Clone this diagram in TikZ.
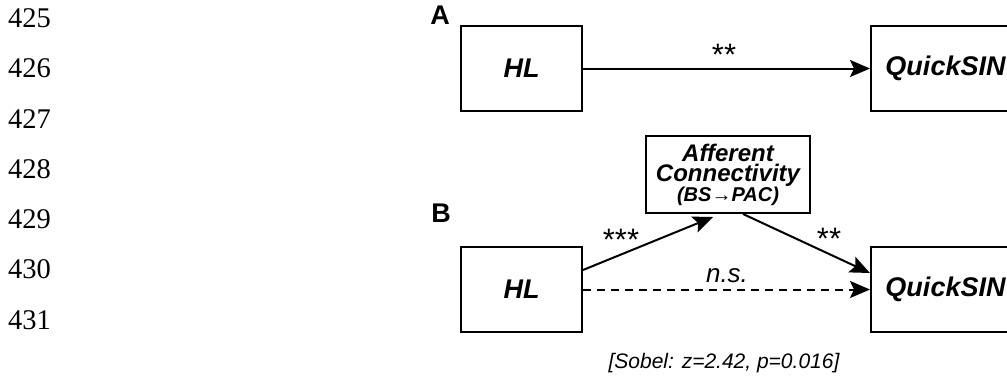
\documentclass[tikz,border=0pt]{standalone}
\usepackage{fontspec}
\setmainfont{Liberation Serif}
\newfontfamily\arial{Liberation Sans}
\usetikzlibrary{arrows.meta,calc}

\tikzset{
  varbox/.style={draw, line width=2pt, inner sep=0pt, align=center,
    font=\arial\bfseries\itshape\fontsize{27}{27}\selectfont},
  arr/.style={line width=2pt, -{Stealth[length=20pt, width=17pt, inset=4pt]}},
  sig/.style={font=\arial\fontsize{31}{31}\selectfont, inner sep=0pt},
  panel/.style={font=\arial\bfseries\fontsize{27}{27}\selectfont, inner sep=0pt},
  lineno/.style={font=\fontsize{28.5}{28.5}\selectfont, anchor=west, inner sep=0pt},
}

\begin{document}
\begin{tikzpicture}[x=1pt, y=-1pt]
\useasboundingbox (0,0) rectangle (1007,381);

% line numbers in the margin
\foreach \n [count=\i from 0] in {425,...,431}
  \node[lineno] (ln\n) at (8, 18+50.3*\i) {\n};

% panel A: direct path
\node[panel] (labA) at (440, 15.5) {A};
\node[varbox, minimum width=121pt, minimum height=85pt] (hlA) at (521.5, 68.5) {HL};
\node[varbox, minimum width=149pt, minimum height=85pt] (qsA) at (945.5, 68.5) {QuickSIN};
\draw[arr] (hlA) -- (qsA);
\node[sig] (sA) at (724, 55) {**};

% panel B: mediation through afferent connectivity
\node[panel] (labB) at (441, 213) {B};
\node[varbox, minimum width=121pt, minimum height=85pt] (hlB) at (521.5, 289.5) {HL};
\node[varbox, minimum width=149pt, minimum height=85pt] (qsB) at (945.5, 289.5) {QuickSIN};
\node[varbox, minimum width=164pt, minimum height=77pt,
      font=\arial\bfseries\itshape\fontsize{24}{20}\selectfont] (aff) at (728, 174.5)
  {Afferent\\Connectivity\\{\fontsize{20}{20}\selectfont (BS→PAC)}};

\coordinate (hlOut) at ($(hlB.east)+(0,-19.5)$);
\coordinate (affIn) at ($(aff.south)+(-15,3)$);
\coordinate (affOut) at ($(aff.south)+(15,0)$);
\coordinate (qsIn) at ($(qsB.west)+(0,-16.5)$);

\draw[arr] (hlOut) -- (affIn);
\draw[arr] (affOut) -- (qsIn);
\draw[arr, dash pattern=on 8pt off 6pt] (hlB) -- (qsB);

\node[sig] (sB1) at (621, 240) {***};
\node[sig] (sB2) at (829, 239) {**};
\node[sig, font=\arial\itshape\fontsize{26}{26}\selectfont] (ns) at (727, 276) {n.s.};
\node[sig, font=\arial\itshape\fontsize{21}{21}\selectfont] (sobel) at (724, 363)
  {[Sobel: z=2.42, p=0.016]};
\end{tikzpicture}
\end{document}
